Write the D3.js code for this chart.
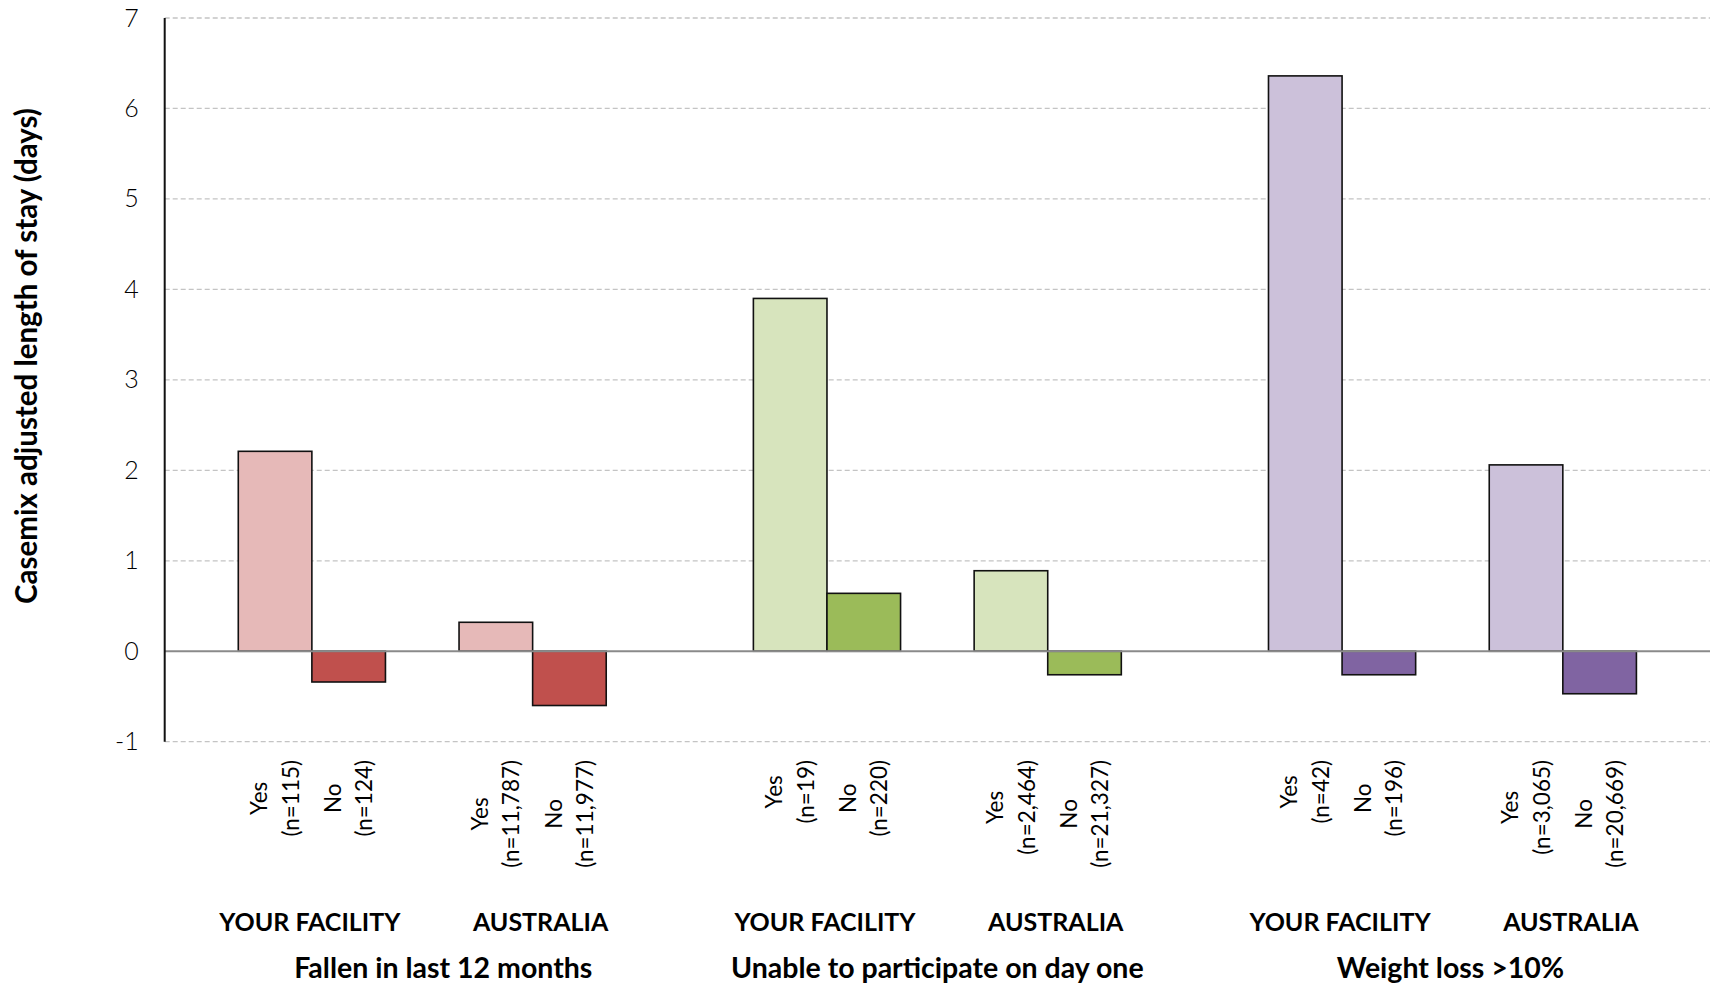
<!DOCTYPE html>
<html><head><meta charset="utf-8">
<script src="https://cdn.jsdelivr.net/npm/d3@7"></script>
<style>body{margin:0;background:#fff;overflow:hidden}text{font-family:Lato,"Noto Sans",sans-serif}</style>
</head><body>
<svg id="c" width="1710" height="987"></svg>
<script>
// ---- data ----
const groups = ["Fallen in last 12 months", "Unable to participate on day one", "Weight loss >10%"];
const populations = ["YOUR FACILITY", "AUSTRALIA"];
const answers = ["Yes", "No"];
const facilityYes = [2.21, 3.90, 6.36];
const facilityNo = [-0.34, 0.64, -0.26];
const australiaYes = [0.32, 0.89, 2.06];
const australiaNo = [-0.60, -0.26, -0.47];
const facilityYesN = ["115", "19", "42"];
const facilityNoN = ["124", "220", "196"];
const australiaYesN = ["11,787", "2,464", "3,065"];
const australiaNoN = ["11,977", "21,327", "20,669"];
const yTicks = [-1, 0, 1, 2, 3, 4, 5, 6, 7];
const yesColors = ["#E6B9B8", "#D7E4BD", "#CCC1DA"];
const noColors = ["#C0504D", "#9BBB59", "#8064A2"];
const yTitle = "Casemix adjusted length of stay (days)";

(function () {
// ---- build records ----
const records = [];
groups.forEach((g, gi) => {
  records.push({g, gi, pop: populations[0], ans: "Yes", v: facilityYes[gi], n: facilityYesN[gi]});
  records.push({g, gi, pop: populations[0], ans: "No", v: facilityNo[gi], n: facilityNoN[gi]});
  records.push({g, gi, pop: populations[1], ans: "Yes", v: australiaYes[gi], n: australiaYesN[gi]});
  records.push({g, gi, pop: populations[1], ans: "No", v: australiaNo[gi], n: australiaNoN[gi]});
});

const svg = d3.select("#c");
const mLeft = 164.7, mRight = 1710, mTop = 18, mBottom = 741.7;

const x0 = d3.scaleBand().domain(groups).range([mLeft, mRight]).padding(0);
const x1 = d3.scaleBand().domain(populations).range([0, x0.bandwidth()]).paddingInner(1/3).paddingOuter(1/3);
const x2 = d3.scaleBand().domain(answers).range([0, x1.bandwidth()]).padding(0);
const y = d3.scaleLinear().domain([-1, 7]).range([mBottom, mTop]);
const bx = d => x0(d.g) + x1(d.pop) + x2(d.ans);

// gridlines
svg.append("g").selectAll("line").data(yTicks.filter(t => t !== 0)).join("line")
  .attr("x1", mLeft).attr("x2", mRight).attr("y1", d => y(d)).attr("y2", d => y(d))
  .attr("stroke", "#c4c4c4").attr("stroke-width", 1.3).attr("stroke-dasharray", "5,3");

// y axis (tick labels)
const yAxis = d3.axisLeft(y).tickValues(yTicks).tickSize(0).tickPadding(26).tickFormat(d3.format("d"));
const ga = svg.append("g").attr("transform", `translate(${mLeft},0)`).call(yAxis);
ga.select(".domain").remove();
ga.selectAll("text").attr("font-size", 25).attr("font-weight", 300).attr("fill", "#000")
  .text(d => d < 0 ? "-" + Math.abs(d) : d)
  .style("font-family", "Lato, 'Noto Sans', sans-serif");

// bars
svg.append("g").selectAll("rect").data(records).join("rect")
  .attr("x", d => bx(d))
  .attr("width", x2.bandwidth())
  .attr("y", d => y(Math.max(0, d.v)))
  .attr("height", d => Math.abs(y(d.v) - y(0)))
  .attr("fill", d => d.ans === "Yes" ? yesColors[d.gi] : noColors[d.gi])
  .attr("stroke", "#111").attr("stroke-width", 1.6);

// zero line
svg.append("line").attr("x1", mLeft).attr("x2", mRight).attr("y1", y(0)).attr("y2", y(0))
  .attr("stroke", "#8a8a8a").attr("stroke-width", 2);

// y axis line
svg.append("line").attr("x1", mLeft).attr("x2", mLeft).attr("y1", y(7)).attr("y2", y(-1))
  .attr("stroke", "#111").attr("stroke-width", 2);

// rotated bar labels
const labelTop = 760;
const lbl = svg.append("g").selectAll("g").data(records).join("g")
  .attr("transform", d => `translate(${bx(d) + x2.bandwidth() / 2},${labelTop}) rotate(-90)`);
lbl.each(function(d) {
  const g = d3.select(this);
  const lines = [d.ans, `(n=${d.n})`];
  const ts = lines.map((t, i) => g.append("text").text(t)
    .attr("y", (i - 0.5) * 31.5).attr("dy", "0.35em")
    .attr("text-anchor", "middle").attr("font-size", 22.5).attr("font-weight", 400).attr("fill", "#000"));
  const L = d3.max(ts, t => t.node().getComputedTextLength());
  ts.forEach(t => t.attr("x", -L / 2));
});

// population labels
const popShift = {"YOUR FACILITY": -2, "AUSTRALIA": 8};
const popLabels = [];
groups.forEach(g => populations.forEach(p => popLabels.push({g, p})));
svg.append("g").selectAll("text").data(popLabels).join("text")
  .attr("x", d => x0(d.g) + x1(d.p) + x1.bandwidth() / 2 + popShift[d.p])
  .attr("y", 922).attr("dy", "0.35em").attr("text-anchor", "middle")
  .attr("font-size", 25).attr("font-weight", 700).attr("fill", "#000")
  .text(d => d.p);

// group labels
const groupShift = [21, 0, -2];
svg.append("g").selectAll("text").data(groups).join("text")
  .attr("x", (d, i) => x0(d) + x0.bandwidth() / 2 + groupShift[i])
  .attr("y", 968).attr("dy", "0.35em").attr("text-anchor", "middle")
  .attr("font-size", 28.5).attr("font-weight", 700).attr("fill", "#000")
  .text(d => d);

// y title
svg.append("text").attr("transform", `translate(27,356) rotate(-90)`)
  .attr("text-anchor", "middle").attr("dy", "0.35em")
  .attr("font-size", 29.5).attr("font-weight", 700).attr("fill", "#000")
  .text(yTitle);
})();
</script>
</body></html>
